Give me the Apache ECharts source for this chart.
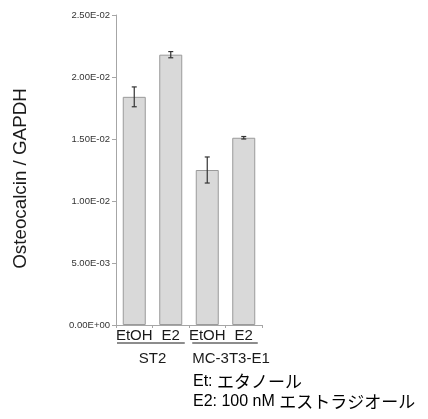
<!DOCTYPE html>
<html>
<head>
<meta charset="utf-8">
<script src="https://cdn.jsdelivr.net/npm/echarts@6/dist/echarts.min.js"></script>
<style>
html,body{margin:0;padding:0;background:#fff;}
#c{width:428px;height:419px;}
</style>
</head>
<body>
<div id="c"></div>
<script>
var categories = ['EtOH', 'E2', 'EtOH', 'E2'];
var groups = ['ST2', 'MC-3T3-E1'];
var values = [0.0184, 0.0218, 0.0125, 0.0151];
var errors = [0.0008, 0.00025, 0.00105, 0.0001];
var yTicks = [0, 0.005, 0.01, 0.015, 0.02, 0.025];
var yTickLabels = ['0.00E+00', '5.00E-03', '1.00E-02', '1.50E-02', '2.00E-02', '2.50E-02'];
var noteKeys = ['Et: ', 'E2: 100 nM '];
var noteTexts = ['エタノール', 'エストラジオール'];

var chart = echarts.init(document.getElementById('c'), null, {renderer: 'canvas'});
var latin = 'Liberation Sans, Arial, sans-serif';

var option = {
  animation: false,
  grid: {left: 116, right: 166, top: 15, bottom: 94, containLabel: false},
  xAxis: [{
    type: 'category',
    data: categories,
    position: 'bottom',
    axisLine: {lineStyle: {color: '#a6a6a6', width: 1}},
    axisTick: {show: true, length: 3, lineStyle: {color: '#a6a6a6'}},
    axisLabel: {color: '#1a1a1a', fontSize: 15, fontFamily: latin, margin: 3, interval: 0}
  }, {
    type: 'category',
    data: groups,
    position: 'bottom',
    offset: 22,
    axisLine: {show: false},
    axisTick: {show: false},
    axisLabel: {
      color: '#1a1a1a', fontSize: 15, fontFamily: latin, margin: 4, interval: 0,
      formatter: function (v, i) { return i === 1 ? '{m|' + v + '}' : v; },
      rich: {m: {fontSize: 15, fontFamily: latin, color: '#1a1a1a', padding: [0, 0, 0, 11]}}
    }
  }],
  yAxis: {
    type: 'value',
    min: 0, max: 0.025, interval: 0.005,
    name: 'Osteocalcin / GAPDH',
    nameLocation: 'middle',
    nameGap: 86,
    nameTextStyle: {fontSize: 18.8, color: '#1a1a1a', fontFamily: latin, padding: [0, 17, 0, 0]},
    axisLine: {show: true, lineStyle: {color: '#a6a6a6'}},
    axisTick: {show: true, length: 4, lineStyle: {color: '#a6a6a6'}},
    splitLine: {show: false},
    axisLabel: {
      color: '#333333', fontSize: 9.5, fontFamily: 'Liberation Sans Narrow, Liberation Sans, Arial', margin: 6,
      formatter: function (v) {
        for (var i = 0; i < yTicks.length; i++) if (Math.abs(yTicks[i] - v) < 1e-9) return yTickLabels[i];
        return '';
      }
    }
  },
  series: [{
    type: 'bar',
    xAxisIndex: 0,
    data: values,
    barWidth: 23,
    itemStyle: {color: '#d9d9d9', borderColor: '#9a9a9a', borderWidth: 1}
  }, {
    type: 'custom',
    xAxisIndex: 0,
    data: values.map(function (v, i) { return [i, v - errors[i], v + errors[i]]; }),
    renderItem: function (params, api) {
      var lo = api.coord([api.value(0), api.value(1)]);
      var hi = api.coord([api.value(0), api.value(2)]);
      var x = lo[0], hw = 2.5;
      var st = {stroke: '#333', lineWidth: 1.2};
      return {type: 'group', children: [
        {type: 'line', shape: {x1: x, y1: lo[1], x2: x, y2: hi[1]}, style: st},
        {type: 'line', shape: {x1: x - hw, y1: lo[1], x2: x + hw, y2: lo[1]}, style: st},
        {type: 'line', shape: {x1: x - hw, y1: hi[1], x2: x + hw, y2: hi[1]}, style: st}
      ]};
    },
    z: 5
  }]
};
chart.setOption(option);

var rich = {
  a: {fontFamily: latin, fontSize: 16, color: '#1a1a1a'},
  j: {fontFamily: '"Noto Sans CJK JP", sans-serif', fontSize: 17, color: '#1a1a1a'}
};
function noteText(i) { return '{a|' + noteKeys[i] + '}{j|' + noteTexts[i] + '}'; }

// underline each group's category labels
var p0 = chart.convertToPixel({xAxisIndex: 0}, 0);
var p1 = chart.convertToPixel({xAxisIndex: 0}, 1);
var p2 = chart.convertToPixel({xAxisIndex: 0}, 2);
var p3 = chart.convertToPixel({xAxisIndex: 0}, 3);
var yBase = chart.convertToPixel({yAxisIndex: 0}, 0);
var half = (p1 - p0) / 2;
chart.setOption({graphic: [
  {type: 'text', left: 193, top: 373, style: {text: noteText(0), rich: rich}},
  {type: 'text', left: 193, top: 393, style: {text: noteText(1), rich: rich}},
  {type: 'line', shape: {x1: p0 - half + 1, y1: yBase + 18, x2: p1 + 14, y2: yBase + 18}, style: {stroke: '#1a1a1a', lineWidth: 1}},
  {type: 'line', shape: {x1: p2 - 15, y1: yBase + 18, x2: p3 + 14, y2: yBase + 18}, style: {stroke: '#1a1a1a', lineWidth: 1}}
]});
</script>
</body>
</html>
